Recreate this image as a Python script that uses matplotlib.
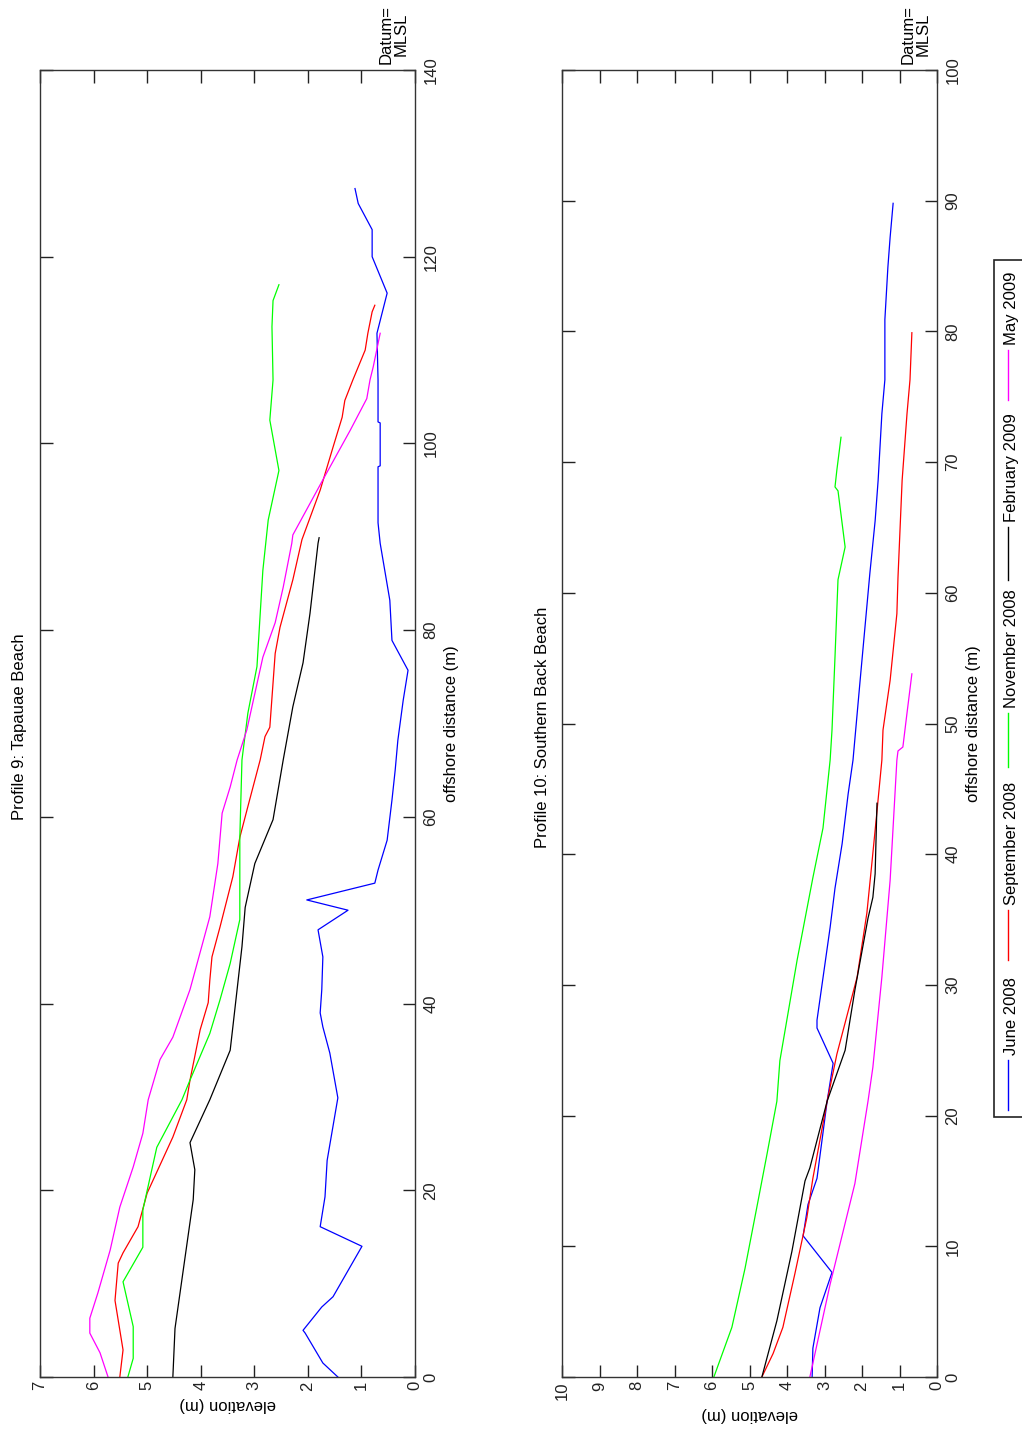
import matplotlib
matplotlib.use('Agg')
import matplotlib.pyplot as plt
from matplotlib.lines import Line2D
from matplotlib.patches import Rectangle

plt.rcParams['font.family'] = ['Liberation Sans', 'DejaVu Sans']
plt.rcParams['font.size'] = 12

# survey names and colours (legend order)
surveys = ['June 2008', 'September 2008', 'November 2008', 'February 2009', 'May 2009']
colors = ['#0000ff', '#ff0000', '#00ff00', '#000000', '#ff00ff']

# Profile 9: Tapauae Beach  (distance m, elevation m)
june9_d = [0, 1.5, 4.7, 5.0, 7.5, 8.6, 14.0, 16.1, 19.3, 23.2, 29.9, 34.7, 37.5, 39.0, 41.5, 45.0, 47.9,
           50.0, 51.1, 52.9, 54.3, 57.5, 61.8, 65.0, 68.2, 72.5, 75.7, 78.9, 83.2, 89.3, 91.5, 97.5,
           97.6, 102.2, 102.3, 106.8, 111.8, 116.1, 120.0, 122.9, 125.7, 127.3]
june9_e = [1.44, 1.72, 2.05, 2.09, 1.74, 1.53, 0.99, 1.77, 1.68, 1.64, 1.44, 1.59, 1.72, 1.77, 1.74, 1.72, 1.81,
           1.25, 2.02, 0.75, 0.69, 0.52, 0.43, 0.37, 0.32, 0.22, 0.13, 0.43, 0.47, 0.65, 0.69, 0.69,
           0.65, 0.65, 0.69, 0.69, 0.71, 0.52, 0.80, 0.80, 1.06, 1.12]
sep9_d = [0, 2.9, 8.2, 12.2, 13.3, 16.1, 19.7, 25.7, 29.7, 31.8, 37.2, 40.1, 42.5, 45.0, 48.2, 53.6, 57.8,
          61.1, 66.1, 68.6, 69.6, 77.5, 80.3, 85.4, 89.7, 95.0, 99.6, 102.8, 104.6, 106.8, 110.0, 111.8,
          114.1, 114.8]
sep9_e = [5.51, 5.45, 5.60, 5.54, 5.45, 5.17, 5.00, 4.52, 4.26, 4.20, 4.01, 3.86, 3.83, 3.79, 3.64, 3.40, 3.27,
          3.12, 2.89, 2.80, 2.71, 2.61, 2.52, 2.28, 2.11, 1.77, 1.53, 1.36, 1.31, 1.16, 0.93, 0.88,
          0.80, 0.75]
nov9_d = [0, 2.0, 5.4, 10.2, 13.9, 17.9, 24.6, 29.7, 31.8, 36.8, 40.4, 44.3, 49.0, 57.8, 66.1, 71.1, 76.1,
          86.4, 91.8, 97.1, 102.5, 106.8, 112.5, 115.3, 117.0]
nov9_e = [5.36, 5.26, 5.26, 5.45, 5.08, 5.08, 4.82, 4.35, 4.20, 3.83, 3.64, 3.45, 3.27, 3.27, 3.23, 3.12, 2.95,
          2.84, 2.74, 2.54, 2.71, 2.65, 2.67, 2.65, 2.54]
feb9_d = [0, 5.2, 19.0, 22.2, 25.1, 29.7, 35.0, 37.5, 46.1, 50.3, 55.0, 59.7, 66.1, 71.8, 76.5, 81.8, 89.3, 89.9]
feb9_e = [4.52, 4.48, 4.14, 4.11, 4.20, 3.83, 3.45, 3.40, 3.23, 3.17, 2.99, 2.65, 2.46, 2.28, 2.09, 1.96, 1.81, 1.79]
may9_d = [0, 2.6, 4.7, 6.3, 9.0, 13.6, 18.2, 22.5, 26.1, 29.7, 34.0, 36.4, 41.5, 49.3, 55.0, 60.4, 63.2,
          66.1, 69.3, 77.1, 80.8, 84.6, 89.3, 90.2, 96.1, 101.4, 104.8, 106.8, 108.2, 111.8]
may9_e = [5.73, 5.88, 6.07, 6.07, 5.92, 5.69, 5.51, 5.26, 5.08, 4.98, 4.76, 4.52, 4.20, 3.83, 3.68, 3.60, 3.45,
          3.32, 3.14, 2.84, 2.61, 2.46, 2.30, 2.28, 1.72, 1.21, 0.90, 0.84, 0.78, 0.65]

# Profile 10: Southern Back Beach
june10_d = [0, 2.2, 5.3, 8.0, 10.8, 13.2, 15.2, 21.1, 24.0, 26.7, 27.3, 34.4, 37.4, 40.8, 44.6, 47.2, 53.3,
            61.5, 65.5, 68.6, 73.7, 76.3, 80.9, 84.9, 87.2, 89.8]
june10_e = [3.33, 3.31, 3.12, 2.80, 3.57, 3.44, 3.20, 2.93, 2.77, 3.20, 3.20, 2.85, 2.72, 2.53, 2.37, 2.24, 2.05,
            1.79, 1.65, 1.57, 1.47, 1.39, 1.39, 1.31, 1.25, 1.17]
sep10_d = [0, 1.8, 3.8, 7.9, 12.2, 15.2, 21.1, 24.7, 30.6, 35.5, 39.5, 43.3, 47.2, 49.5, 53.3, 58.4, 61.2,
           68.6, 73.7, 76.3, 79.9]
sep10_e = [4.67, 4.37, 4.11, 3.79, 3.47, 3.31, 2.93, 2.67, 2.13, 1.87, 1.73, 1.60, 1.47, 1.44, 1.25, 1.07, 1.04,
           0.93, 0.80, 0.72, 0.67]
nov10_d = [0, 3.8, 8.3, 13.5, 17.1, 21.1, 24.2, 31.9, 38.2, 42.0, 47.2, 49.5, 55.1, 61.0, 63.5, 67.8, 68.1,
           69.4, 71.9]
nov10_e = [5.95, 5.47, 5.12, 4.77, 4.53, 4.27, 4.19, 3.73, 3.31, 3.04, 2.85, 2.80, 2.72, 2.64, 2.45, 2.64, 2.72,
           2.67, 2.56]
feb10_d = [0, 4.3, 9.6, 15.0, 16.0, 21.1, 25.0, 29.6, 35.1, 36.7, 38.5, 43.9]
feb10_e = [4.67, 4.27, 3.87, 3.52, 3.39, 2.93, 2.45, 2.19, 1.84, 1.71, 1.65, 1.60]
may10_d = [0, 7.1, 14.8, 21.1, 23.7, 30.6, 38.0, 47.2, 47.9, 48.2, 50.8, 53.8]
may10_e = [3.39, 2.85, 2.19, 1.84, 1.71, 1.47, 1.25, 1.07, 1.04, 0.91, 0.80, 0.67]

W, H = 1022, 1432
fig = plt.figure(figsize=(W / 100, H / 100), dpi=100)


def px(x, y):
    # figure pixel (from top-left) -> figure fraction
    return x / W, 1 - y / H


def profile(left, title, dists, elevs, emax, dmax, dstep):
    ax = fig.add_axes([left / W, 1 - 1377 / H, 375 / W, 1307 / H])
    # page is turned: elevation runs along the bottom, distance up the right side
    for d, e, c in zip(dists, elevs, colors):
        ax.plot(e, d, color=c, lw=0.9)
    ax.set_xlim(emax, 0)
    ax.set_ylim(0, dmax)
    ax.set_xticks(range(0, emax + 1))
    ax.set_yticks(range(0, dmax + 1, dstep))
    ax.tick_params(direction='in', length=9, width=1, top=True, right=True,
                   labelleft=False, labelright=True, colors='#222222')
    ax.tick_params(axis='x', labelrotation=90, pad=3)
    ax.tick_params(axis='y', labelrotation=90, pad=6)
    for lab in ax.get_yticklabels():
        lab.set_va('center')
    for s in ax.spines.values():
        s.set_color('#333333')
        s.set_linewidth(1.0)
    ax.set_xlabel('elevation (m)', rotation=180, labelpad=5)
    ax.yaxis.set_label_position('right')
    ax.set_ylabel('offshore distance (m)', rotation=90, labelpad=4)
    ax.yaxis.label.set_va('top')
    # title sits on the left edge, turned with the page
    fig.text(*px(left - 20, 727), title, rotation=90, ha='center', va='center')
    fig.text(*px(left + 354, 64), 'Datum=\nMLSL', rotation=90, ha='center', va='bottom',
             multialignment='center', linespacing=1.0)
    return ax


profile(40, 'Profile 9: Tapauae Beach',
        [june9_d, sep9_d, nov9_d, feb9_d, may9_d],
        [june9_e, sep9_e, nov9_e, feb9_e, may9_e], 7, 140, 20)
profile(562, 'Profile 10: Southern Back Beach',
        [june10_d, sep10_d, nov10_d, feb10_d, may10_d],
        [june10_e, sep10_e, nov10_e, feb10_e, may10_e], 10, 100, 10)

# legend box, drawn turned on its side at the right edge
x0, y0 = px(994, 1117)
x1, y1 = px(1040, 260)
fig.patches.append(Rectangle((x0, y0), x1 - x0, y1 - y0, transform=fig.transFigure,
                             facecolor='white', edgecolor='#222222', lw=1.2))
line_pos = [(1110, 1060), (960, 910), (767, 713), (580, 527), (400, 350)]
for (ya, yb), name, c in zip(line_pos, surveys, colors):
    xa, fa = px(1008, ya)
    _, fb = px(1008, yb)
    fig.add_artist(Line2D([xa, xa], [fa, fb], transform=fig.transFigure, color=c, lw=1.0))
    fig.text(*px(1011, yb - 5), name, rotation=90, ha='center', va='bottom')

fig.savefig('out.png', dpi=100)
